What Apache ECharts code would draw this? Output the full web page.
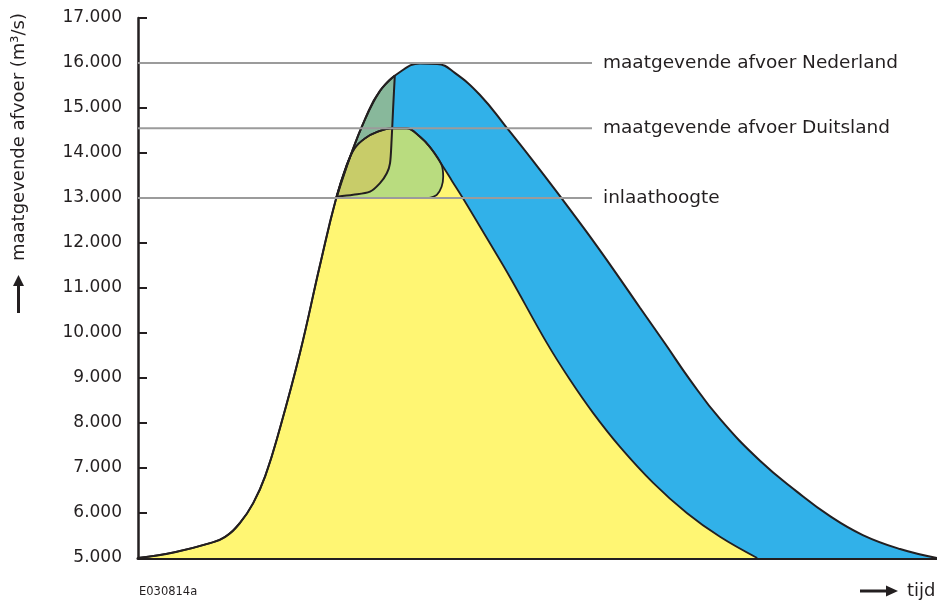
<!DOCTYPE html>
<html>
<head>
<meta charset="utf-8">
<script src="https://cdn.jsdelivr.net/npm/echarts@6/dist/echarts.min.js"></script>
<style>
  html, body { margin: 0; padding: 0; background: #fff; }
  #chart { width: 937px; height: 601px; }
</style>
</head>
<body>
<div id="chart"></div>
<script>
// afvoergolf Nederland (buitenste golf, blauw)
const nlTijd = [0, 4.6, 9, 10.9, 12.75, 14.4, 15.9, 17.75, 20.25, 22.75, 24.75, 26.5, 28.4, 30.25, 32.75, 35.25, 37.4, 39.6, 42.75, 46.1, 49.4, 52.75, 56.1, 59.4, 62.75, 65.9, 69, 72.75, 77.75, 82.4, 86.5, 90.6, 95.25, 99.9];
const nlAfvoer = [5000, 5130, 5330, 5470, 5780, 6220, 6820, 7890, 9560, 11510, 12980, 13910, 14760, 15380, 15800, 15990, 15980, 15780, 15290, 14560, 13820, 13040, 12240, 11420, 10560, 9760, 8960, 8090, 7160, 6470, 5930, 5510, 5200, 5000];

// afvoergolf Duitsland (geel)
const deTijd = [0, 4.6, 9, 10.9, 12.75, 14.4, 15.9, 17.75, 20.25, 22.75, 24.75, 26, 27.1, 28.4, 29.9, 31.75, 33.6, 35.25, 36.5, 37.9, 39.25, 40.6, 43.6, 46.5, 51.1, 54, 56.9, 60.25, 64.4, 68.6, 72.75, 77.4];
const deAfvoer = [5000, 5130, 5330, 5470, 5780, 6220, 6820, 7890, 9560, 11510, 12980, 13690, 14110, 14330, 14470, 14550, 14550, 14360, 14130, 13760, 13380, 13000, 12110, 11240, 9780, 8960, 8220, 7470, 6670, 6000, 5470, 5000];

// deel boven de inlaathoogte (lichtgroen)
const inlaatTijd = [24.75, 26, 27.1, 28.4, 29.9, 31.75, 33.6, 35.25, 36.5, 37.9, 38.15, 37.95, 37.35, 36.7, 36.4];
const inlaatAfvoer = [13000, 13690, 14110, 14330, 14470, 14550, 14550, 14360, 14130, 13760, 13470, 13250, 13070, 13015, 13000];

// retentiegebied (transparante laag)
const retentieTijd = [24.85, 26.5, 28.4, 30.25, 32.1, 31.9, 31.7, 31.5, 31.1, 30.25, 29, 26.9, 24.85];
const retentieAfvoer = [13030, 13910, 14760, 15380, 15720, 15030, 14290, 13770, 13550, 13330, 13140, 13070, 13030];

// horizontale niveaus
const niveauNamen = ['maatgevende afvoer Nederland', 'maatgevende afvoer Duitsland', 'inlaathoogte'];
const niveauAfvoer = [16000, 14550, 13000];
const niveauEind = 56.75;

const pairs = (t, q) => t.map((x, i) => [x, q[i]]);
const ink = '#231f20';
const font = 'DejaVu Sans';

const chart = echarts.init(document.getElementById('chart'));

const series = [
  {
    name: 'Nederland',
    type: 'line',
    data: pairs(nlTijd, nlAfvoer),
    smooth: 0.45,
    symbol: 'none',
    lineStyle: { color: ink, width: 2 },
    areaStyle: { color: '#31b1e9', opacity: 1 }
  },
  {
    name: 'Duitsland',
    type: 'line',
    data: pairs(deTijd, deAfvoer),
    smooth: 0.4,
    symbol: 'none',
    lineStyle: { color: ink, width: 1.8 },
    areaStyle: { color: '#fff673', opacity: 1 }
  },
  {
    name: 'inlaat',
    type: 'line',
    data: pairs(inlaatTijd, inlaatAfvoer),
    smooth: 0.35,
    symbol: 'none',
    lineStyle: { color: ink, width: 1.8 },
    areaStyle: { color: '#b9dc7f', opacity: 1, origin: 13000 }
  },
  {
    name: 'retentie',
    type: 'line',
    data: pairs(retentieTijd, retentieAfvoer),
    smooth: 0.3,
    symbol: 'none',
    lineStyle: { color: ink, width: 2 },
    areaStyle: { color: 'rgba(214,191,85,0.53)', opacity: 1, origin: 13000 }
  }
];

niveauNamen.forEach((naam, i) => {
  series.push({
    name: naam,
    type: 'line',
    data: [[0, niveauAfvoer[i]], [niveauEind, niveauAfvoer[i]]],
    symbol: 'none',
    z: 10,
    lineStyle: { color: '#9b9b9b', width: 2 },
    endLabel: {
      show: true,
      formatter: naam,
      distance: 11,
      color: ink,
      fontFamily: font,
      fontSize: 18.5
    }
  });
});

const option = {
  animation: false,
  backgroundColor: '#fff',
  grid: { left: 138, top: 18, width: 800, height: 540, outerBoundsMode: 'none' },
  xAxis: {
    type: 'value',
    min: 0,
    max: 100,
    axisLine: { show: true, lineStyle: { color: ink, width: 3 } },
    axisTick: { show: false },
    axisLabel: { show: false },
    splitLine: { show: false }
  },
  yAxis: {
    type: 'value',
    min: 5000,
    max: 17000,
    interval: 1000,
    axisLine: { show: true, lineStyle: { color: ink, width: 2.5 } },
    axisTick: { show: true, inside: true, length: 9, lineStyle: { color: ink, width: 2 } },
    axisLabel: {
      margin: 16,
      color: ink,
      fontFamily: font,
      fontSize: 17,
      formatter: v => (v / 1000).toFixed(3)
    },
    splitLine: { show: false }
  },
  graphic: [
    {
      type: 'text',
      x: 19,
      y: 137,
      rotation: Math.PI / 2,
      style: {
        text: 'maatgevende afvoer (m³/s)',
        fill: ink,
        font: '18px "DejaVu Sans"',
        align: 'center',
        verticalAlign: 'middle'
      }
    },
    // pijl omhoog bij de y-as
    { type: 'rect', shape: { x: 17, y: 284, width: 3, height: 29 }, style: { fill: ink } },
    { type: 'polygon', shape: { points: [[18.5, 275], [13, 286], [24, 286]] }, style: { fill: ink } },
    // pijl naar rechts bij tijd
    { type: 'rect', shape: { x: 860, y: 589.5, width: 28, height: 3 }, style: { fill: ink } },
    { type: 'polygon', shape: { points: [[898, 591], [886, 585.5], [886, 596.5]] }, style: { fill: ink } },
    {
      type: 'text',
      x: 907,
      y: 591,
      style: { text: 'tijd', fill: ink, font: '18px "DejaVu Sans"', verticalAlign: 'middle' }
    },
    {
      type: 'text',
      x: 139,
      y: 592,
      style: { text: 'E030814a', fill: ink, font: '11.5px "DejaVu Sans"', verticalAlign: 'middle' }
    }
  ],
  series: series
};

chart.setOption(option);
</script>
</body>
</html>
